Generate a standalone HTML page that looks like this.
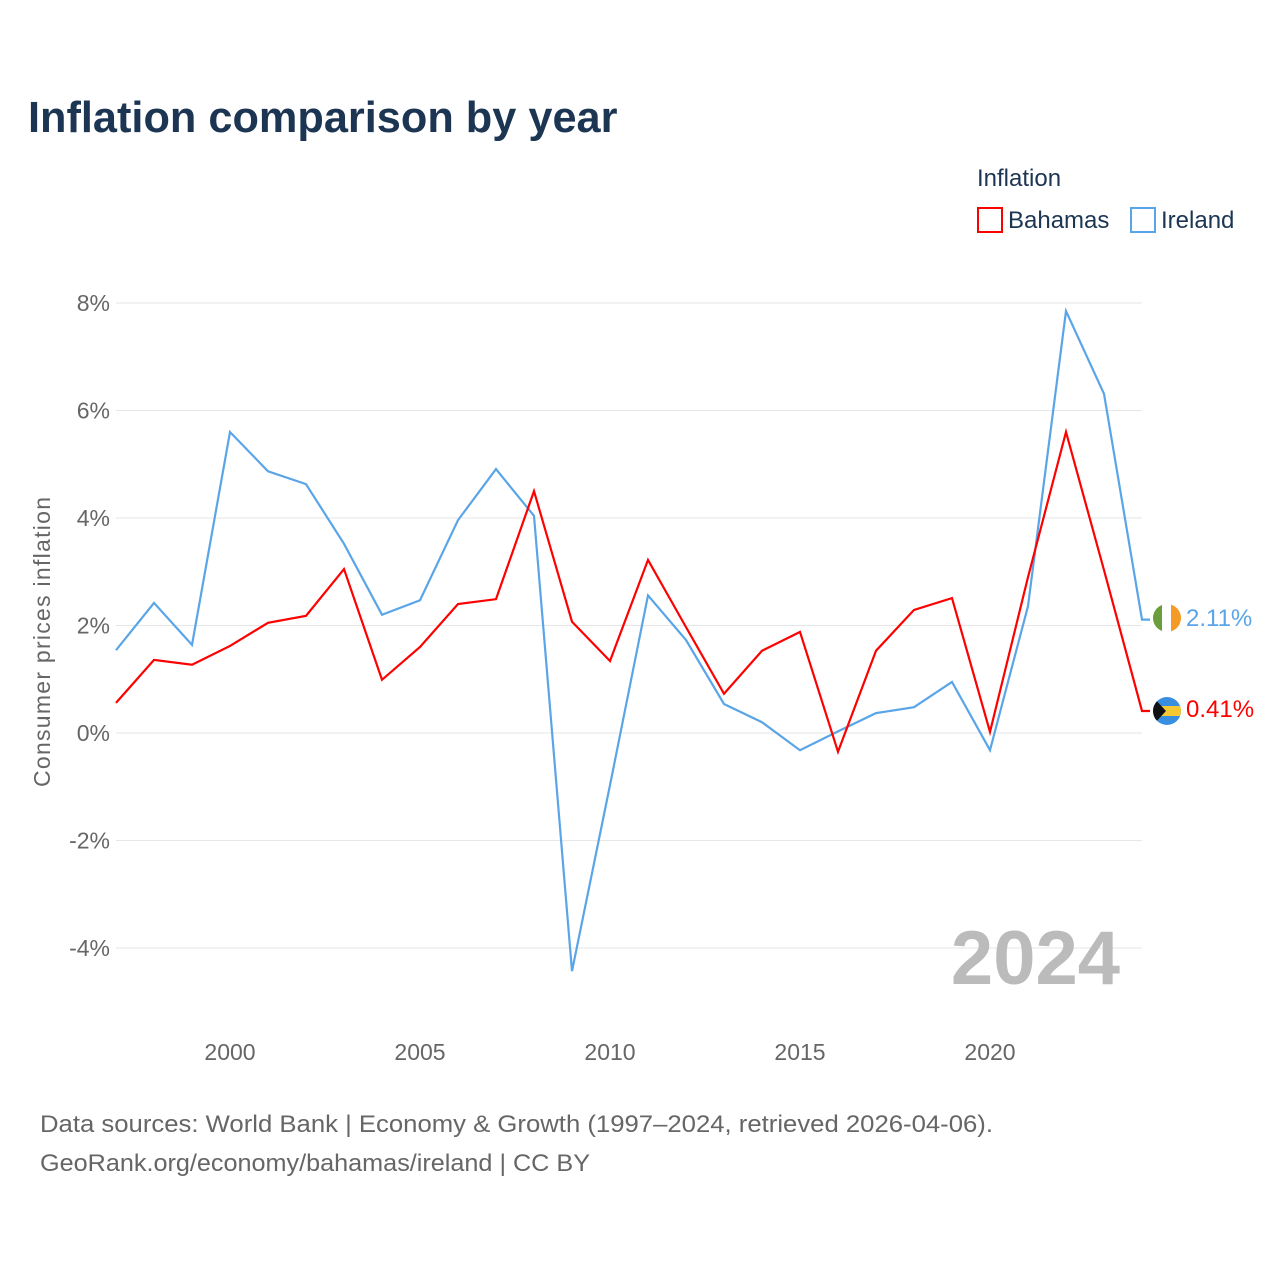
<!DOCTYPE html>
<html><head><meta charset="utf-8"><style>
body{margin:0;background:#fff;font-family:"Liberation Sans",sans-serif}
</style></head><body>
<svg width="1280" height="1280" xmlns="http://www.w3.org/2000/svg">
<text x="28" y="132" font-size="43.3" font-weight="bold" fill="#1c3553">Inflation comparison by year</text>
<text x="977" y="186" font-size="24" fill="#1c3553">Inflation</text>
<g><rect x="978" y="208" width="24" height="24" fill="none" stroke="#ff0000" stroke-width="2"/><text x="1008" y="228" font-size="24" fill="#1c3553">Bahamas</text></g>
<g><rect x="1131" y="208" width="24" height="24" fill="none" stroke="#5aa5e8" stroke-width="2"/><text x="1161" y="228" font-size="24" fill="#1c3553">Ireland</text></g>
<g id="grid"></g>
<text transform="translate(50,642) rotate(-90)" text-anchor="middle" font-size="23" fill="#666" textLength="290">Consumer prices inflation</text>
<text x="1120" y="984" text-anchor="end" font-size="76" font-weight="bold" fill="#bbb">2024</text>
<g id="series"></g>
<g><clipPath id="ci"><circle cx="1167" cy="618" r="14"/></clipPath><g clip-path="url(#ci)"><rect x="1153" y="604" width="10" height="28" fill="#6a9d3c"/><rect x="1162" y="604" width="10" height="28" fill="#fff"/><rect x="1171" y="604" width="10" height="28" fill="#f59a26"/></g></g>
<g><clipPath id="cb"><circle cx="1167" cy="711" r="14"/></clipPath><g clip-path="url(#cb)"><rect x="1153" y="697" width="28" height="28" fill="#3a8ee0"/><rect x="1153" y="706" width="28" height="10" fill="#f5c733"/><polygon points="1153,697 1166,711 1153,725" fill="#111"/></g></g>
<text x="1186" y="626" font-size="24" fill="#5aa5e8">2.11%</text>
<text x="1186" y="717" font-size="24" fill="#ff0000">0.41%</text>
<text x="40" y="1132" font-size="24" fill="#666" textLength="953" lengthAdjust="spacingAndGlyphs">Data sources: World Bank | Economy &amp; Growth (1997–2024, retrieved 2026-04-06).</text>
<text x="40" y="1171" font-size="24" fill="#666" textLength="550" lengthAdjust="spacingAndGlyphs">GeoRank.org/economy/bahamas/ireland | CC BY</text>
</svg>
<script>
const years=[1997,1998,1999,2000,2001,2002,2003,2004,2005,2006,2007,2008,2009,2010,2011,2012,2013,2014,2015,2016,2017,2018,2019,2020,2021,2022,2023,2024];
const ireland=[1.54,2.42,1.64,5.6,4.87,4.63,3.52,2.2,2.47,3.96,4.91,4.04,-4.43,-0.97,2.56,1.73,0.54,0.2,-0.32,0.03,0.37,0.48,0.95,-0.32,2.36,7.85,6.31,2.11];
const bahamas=[0.56,1.36,1.27,1.62,2.05,2.18,3.05,0.99,1.6,2.4,2.49,4.5,2.07,1.34,3.22,1.97,0.73,1.53,1.88,-0.35,1.53,2.29,2.51,0.02,2.9,5.6,3.03,0.41];
const yTicks=[8,6,4,2,0,-2,-4];
const xTicks=[2000,2005,2010,2015,2020];
const NS="http://www.w3.org/2000/svg";
const X=y=>116+(y-1997)*38;
const Y=v=>733-v*53.75;
const grid=document.getElementById('grid');
yTicks.forEach(t=>{
 const l=document.createElementNS(NS,'line');
 l.setAttribute('x1',116);l.setAttribute('x2',1142);l.setAttribute('y1',Y(t));l.setAttribute('y2',Y(t));
 l.setAttribute('stroke','#e6e6e6');
 
 
 grid.appendChild(l);
 const tx=document.createElementNS(NS,'text');
 tx.setAttribute('x',110);tx.setAttribute('y',Y(t)+8);tx.setAttribute('text-anchor','end');
 tx.setAttribute('font-size','23');tx.setAttribute('fill','#666');
 tx.textContent=t+'%';
 
 
 grid.appendChild(tx);
});
xTicks.forEach(t=>{
 const tx=document.createElementNS(NS,'text');
 tx.setAttribute('x',X(t));tx.setAttribute('y',1060);tx.setAttribute('text-anchor','middle');
 tx.setAttribute('font-size','23');tx.setAttribute('fill','#666');
 tx.textContent=t;
 
 
 grid.appendChild(tx);
});
const ser=document.getElementById('series');
[[ireland,'#5aa5e8','line-ireland'],[bahamas,'#ff0000','line-bahamas']].forEach(([d,c,n])=>{
 let pts=years.map((y,i)=>X(y)+','+Y(d[i]));
 pts.push((X(2024)+8)+','+Y(d[d.length-1]));
 const p=document.createElementNS(NS,'polyline');
 p.setAttribute('points',pts.join(' '));
 p.setAttribute('fill','none');p.setAttribute('stroke',c);p.setAttribute('stroke-width','2.2');
 
 
 ser.appendChild(p);
});
</script>
</body></html>
